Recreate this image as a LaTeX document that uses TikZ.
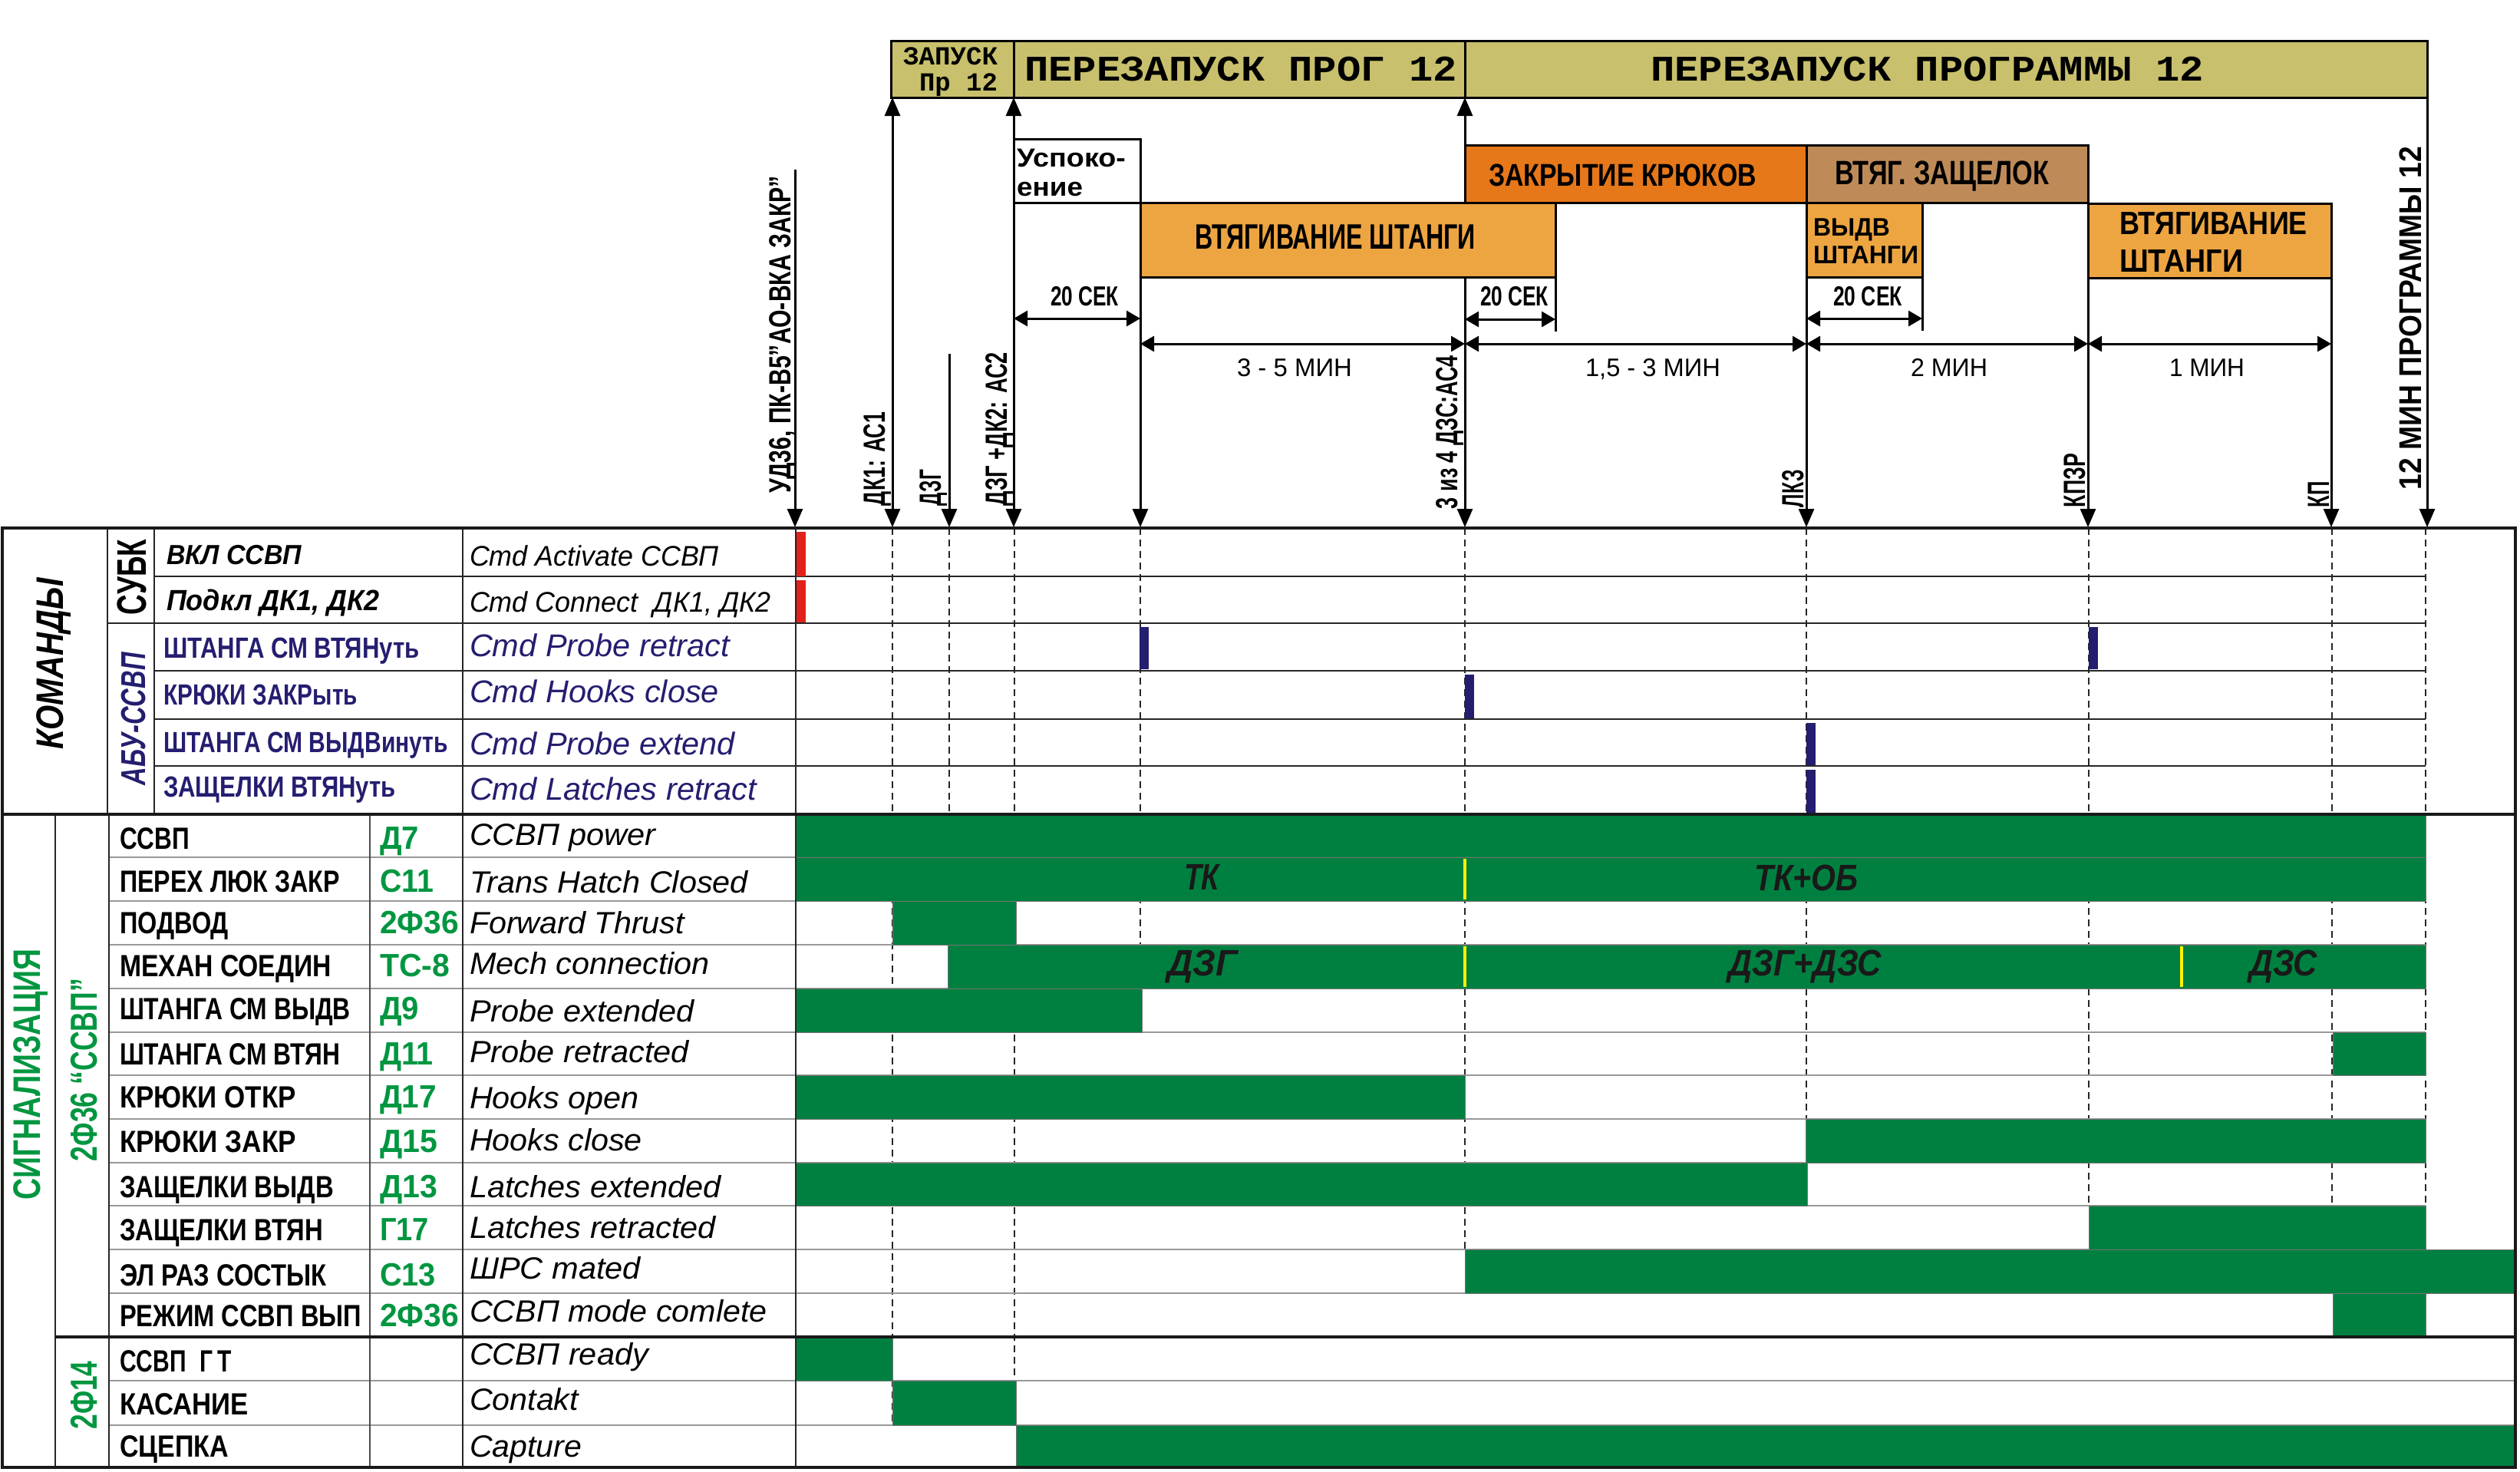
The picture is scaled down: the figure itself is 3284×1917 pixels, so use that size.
\documentclass[tikz,border=0pt]{standalone}
\usepackage{fontspec}
\setmainfont{Liberation Sans}
\newfontfamily\monof{Liberation Mono}
\usetikzlibrary{arrows.meta}
\definecolor{barolive}{RGB}{200,192,108}
\definecolor{orlight}{RGB}{237,165,66}
\definecolor{ordark}{RGB}{230,120,26}
\definecolor{brownbox}{RGB}{190,139,88}
\definecolor{sgreen}{RGB}{0,128,64}
\definecolor{tgreen}{RGB}{0,150,64}
\definecolor{navy}{RGB}{36,30,112}
\definecolor{mred}{RGB}{226,32,28}
\newcommand\fw[2]{\resizebox{#1pt}{\height}{#2}}
\newcommand\fs[1]{\fontsize{#1}{#1}\selectfont}
\newcommand\sigrow[9]{%
  \node[slab] (#9l) at (156,#1) {\fw{#3}{#2}};
  \node[scode] (#9c) at (495,#1) {\fw{#5}{#4}};
  \node[seng] (#9e) at (612,#6) {\fw{#8}{#7}};
}
\begin{document}
\begin{tikzpicture}[x=1pt,y=-1pt,
  tx/.style={inner sep=0pt,outer sep=0pt},
  bw/.style={tx,anchor=base west},
  rot/.style={tx,rotate=90,anchor=base west,font=\fs{40}\bfseries},
  grp/.style={tx,rotate=90,anchor=center},
  dashv/.style={line width=2pt,dash pattern=on 9pt off 6pt,black!85},
  rowk/.style={line width=2.5pt,black!85},
  rows/.style={line width=1.2pt,black!40},
  thickb/.style={line width=4pt,black!90},
  colv/.style={line width=2.5pt,black!85},
  bar/.style={fill=sgreen,draw=black!55,line width=1pt},
  tarr/.style={line width=3pt,-{Triangle[length=24pt,width=20pt]}},
  tdbl/.style={line width=3pt,{Triangle[length=24pt,width=20pt]}-{Triangle[length=24pt,width=20pt]}},
  dimarr/.style={line width=3pt,{Triangle[length=18pt,width=20pt]}-{Triangle[length=18pt,width=20pt]}},
  phasebox/.style={draw=black,line width=3pt},
  slab/.style={bw,font=\fs{40}\bfseries},
  scode/.style={bw,font=\fs{42}\bfseries,text=tgreen},
  seng/.style={bw,font=\fs{40}\itshape},
  bartext/.style={bw,font=\fs{48}\bfseries\itshape,text=black!90},
  ytick/.style={line width=4pt,yellow},
  dimlab/.style={bw,font=\fs{33}},
  seclab/.style={bw,font=\fs{36}\bfseries},
]
\useasboundingbox (0,0) rectangle (3284,1917);
\fill[white] (0,0) rectangle (3284,1917);

% ---------- dashed time lines ----------
\draw[dashv] (1163,688) -- (1163,1857);
\draw[dashv] (1237,688) -- (1237,1061);
\draw[dashv] (1322,688) -- (1322,1799);
\draw[dashv] (1486,688) -- (1486,1231);
\draw[dashv] (1909,688) -- (1909,1628);
\draw[dashv] (2354,688) -- (2354,1571);
\draw[dashv] (2722,688) -- (2722,1571);
\draw[dashv] (3039,688) -- (3039,1685);
\draw[dashv] (3161,688) -- (3161,1742);

% ---------- row lines ----------
\draw[rowk] (201,751) -- (3161,751);
\draw[rowk] (140,812) -- (3161,812);
\foreach \yy in {874,937,998} \draw[rowk] (201,\yy) -- (3161,\yy);
\foreach \yy in {1117,1174,1231,1288,1345,1401,1458,1515,1571,1628,1685} \draw[rows] (142,\yy) -- (3161,\yy);
\foreach \yy in {1799,1857} \draw[rows] (142,\yy) -- (3278,\yy);

% ---------- green signal bars ----------
\draw[bar] (1037,1061) rectangle (3161,1117);
\draw[bar] (1037,1117) rectangle (3161,1174);
\draw[bar] (1163,1174) rectangle (1324,1231);
\draw[bar] (1235,1231) rectangle (3161,1288);
\draw[bar] (1037,1288) rectangle (1488,1345);
\draw[bar] (3040,1345) rectangle (3161,1401);
\draw[bar] (1037,1401) rectangle (1909,1458);
\draw[bar] (2353,1458) rectangle (3161,1515);
\draw[bar] (1037,1515) rectangle (2355,1571);
\draw[bar] (2722,1571) rectangle (3161,1628);
\draw[bar] (1909,1628) rectangle (3278,1685);
\draw[bar] (3040,1685) rectangle (3161,1742);
\draw[bar] (1037,1742) rectangle (1163,1799);
\draw[bar] (1163,1799) rectangle (1324,1857);
\draw[bar] (1324,1857) rectangle (3278,1912);

% yellow ticks
\draw[ytick] (1909,1119) -- (1909,1172);
\draw[ytick] (1909,1233) -- (1909,1286);
\draw[ytick] (2843,1233) -- (2843,1286);

% ---------- command marks ----------
\fill[mred] (1037,693) rectangle (1050,751);
\fill[mred] (1037,756) rectangle (1050,811);
\fill[navy] (1485,817) rectangle (1497,872);
\fill[navy] (2722,817) rectangle (2734,872);
\fill[navy] (1909,879) rectangle (1921,936);
\fill[navy] (2354,942) rectangle (2366,997);
\fill[navy] (2354,1003) rectangle (2366,1060);

% ---------- table frame ----------
\draw[colv] (140,688) -- (140,1061);
\draw[colv] (201,688) -- (201,1061);
\draw[colv] (72,1061) -- (72,1912);
\draw[colv] (142,1061) -- (142,1912);
\draw[line width=1.5pt,black!70] (482,1061) -- (482,1912);
\draw[colv] (603,688) -- (603,1912);
\draw[colv] (1037,688) -- (1037,1912);
\draw[thickb] (3,688) -- (3278,688);
\draw[thickb] (3,1061) -- (3278,1061);
\draw[line width=3.5pt,black!90] (72,1742) -- (3278,1742);
\draw[line width=3.5pt,black!90] (3,688) rectangle (3278,1912);

% ---------- bar texts ----------
\node[bartext] (tk) at (1543,1159) {\fw{46}{ТК}};
\node[bartext] (tkob) at (2286,1160) {\fw{135}{ТК+ОБ}};
\node[bartext] (dzg) at (1521,1271) {\fw{92}{ДЗГ}};
\node[bartext] (dzgdzs) at (2252,1271) {\fw{200}{ДЗГ+ДЗС}};
\node[bartext] (dzs) at (2931,1271) {\fw{89}{ДЗС}};

% ---------- group labels ----------
\node[grp,font=\fs{50}\bfseries\itshape] (kom) at (70,865) {\fw{223}{КОМАНДЫ}};
\node[grp,font=\fs{54}\bfseries] (subk) at (172,752) {\fw{98}{СУБК}};
\node[grp,font=\fs{45}\bfseries\itshape,text=navy] (abu) at (174,937) {\fw{173}{АБУ-ССВП}};
\node[grp,font=\fs{50}\bfseries,text=tgreen] (sig) at (40,1400) {\fw{327}{СИГНАЛИЗАЦИЯ}};
\node[grp,font=\fs{49}\bfseries,text=tgreen] (f36) at (110,1394) {\fw{238}{2Ф36 “ССВП”}};
\node[grp,font=\fs{49}\bfseries,text=tgreen] (f14) at (110,1818) {\fw{89}{2Ф14}};

% ---------- command rows ----------
\node[bw,font=\fs{36}\bfseries\itshape] (c0l) at (217,735) {\fw{176}{ВКЛ ССВП}};
\node[bw,font=\fs{37}\itshape] (c0e) at (612,737) {\fw{325}{Cmd Activate ССВП}};
\node[bw,font=\fs{38}\bfseries\itshape] (c1l) at (217,795) {\fw{278}{Подкл ДК1, ДК2}};
\node[bw,font=\fs{37}\itshape] (c1e) at (612,797) {\fw{393}{Cmd Connect\ \ ДК1, ДК2}};
\node[bw,font=\fs{38}\bfseries,text=navy] (c2l) at (213,857) {\fw{334}{ШТАНГА СМ ВТЯНуть}};
\node[bw,font=\fs{41}\itshape,text=navy] (c2e) at (612,855) {\fw{339}{Cmd Probe retract}};
\node[bw,font=\fs{38}\bfseries,text=navy] (c3l) at (213,918) {\fw{253}{КРЮКИ ЗАКРыть}};
\node[bw,font=\fs{41}\itshape,text=navy] (c3e) at (612,915) {\fw{325}{Cmd Hooks close}};
\node[bw,font=\fs{38}\bfseries,text=navy] (c4l) at (213,980) {\fw{371}{ШТАНГА СМ ВЫДВинуть}};
\node[bw,font=\fs{41}\itshape,text=navy] (c4e) at (612,983) {\fw{346}{Cmd Probe extend}};
\node[bw,font=\fs{38}\bfseries,text=navy] (c5l) at (213,1038) {\fw{303}{ЗАЩЕЛКИ ВТЯНуть}};
\node[bw,font=\fs{41}\itshape,text=navy] (c5e) at (612,1042) {\fw{374}{Cmd Latches retract}};

% ---------- signal rows ----------
\sigrow{1106}{ССВП}{91}{Д7}{51}{1101}{ССВП power}{242}{s0}
\sigrow{1162}{ПЕРЕХ ЛЮК ЗАКР}{287}{С11}{70}{1163}{Trans Hatch Closed}{363}{s1}
\sigrow{1216}{ПОДВОД}{142}{2Ф36}{103}{1216}{Forward Thrust}{280}{s2}
\sigrow{1272}{МЕХАН СОЕДИН}{276}{ТС-8}{91}{1269}{Mech connection}{313}{s3}
\sigrow{1328}{ШТАНГА СМ ВЫДВ}{301}{Д9}{51}{1331}{Probe extended}{293}{s4}
\sigrow{1387}{ШТАНГА СМ ВТЯН}{287}{Д11}{70}{1384}{Probe retracted}{286}{s5}
\sigrow{1443}{КРЮКИ ОТКР}{230}{Д17}{74}{1444}{Hooks open}{221}{s6}
\sigrow{1501}{КРЮКИ ЗАКР}{230}{Д15}{75}{1499}{Hooks close}{225}{s7}
\sigrow{1560}{ЗАЩЕЛКИ ВЫДВ}{279}{Д13}{75}{1560}{Latches extended}{328}{s8}
\sigrow{1616}{ЗАЩЕЛКИ ВТЯН}{265}{Г17}{64}{1613}{Latches retracted}{321}{s9}
\sigrow{1675}{ЭЛ РАЗ СОСТЫК}{270}{С13}{73}{1666}{ШРС mated}{223}{s10}
\sigrow{1728}{РЕЖИМ ССВП ВЫП}{315}{2Ф36}{103}{1722}{ССВП mode comlete}{388}{s11}
\node[slab] (s12l) at (156,1787) {\fw{146}{ССВП\hspace{0.6em}Г\hspace{0.2em}Т}};
\node[seng] (s12e) at (612,1778) {\fw{233}{ССВП ready}};
\node[slab] (s13l) at (156,1843) {\fw{168}{КАСАНИЕ}};
\node[seng] (s13e) at (612,1837) {\fw{142}{Contakt}};
\node[slab] (s14l) at (156,1898) {\fw{142}{СЦЕПКА}};
\node[seng] (s14e) at (612,1898) {\fw{146}{Capture}};

% ---------- time arrows (drawn below the phase boxes) ----------
\coordinate (udT) at (1036,221);  \coordinate (udB) at (1036,687);
\coordinate (dk1T) at (1163,127); \coordinate (dk1B) at (1163,687);
\coordinate (dzgT) at (1237,461); \coordinate (dzgB) at (1237,687);
\coordinate (dk2T) at (1321,127); \coordinate (dk2B) at (1321,687);
\coordinate (vtT) at (1486,361);  \coordinate (vtB) at (1486,687);
\coordinate (c4T) at (1909,127);  \coordinate (c4B) at (1909,687);
\coordinate (lkT) at (2354,361);  \coordinate (lkB) at (2354,687);
\coordinate (kzT) at (2721,264);  \coordinate (kzB) at (2721,687);
\coordinate (kpT) at (3038,362);  \coordinate (kpB) at (3038,687);
\coordinate (p12T) at (3163,127); \coordinate (p12B) at (3163,687);
\coordinate (e1T) at (2027,361);  \coordinate (e1B) at (2027,432);
\coordinate (e2T) at (2505,361);  \coordinate (e2B) at (2505,431);
\draw[tarr] (udT) -- (udB);
\draw[tdbl] (dk1T) -- (dk1B);
\draw[tarr] (dzgT) -- (dzgB);
\draw[tdbl] (dk2T) -- (dk2B);
\draw[tarr] (vtT) -- (vtB);
\draw[tdbl] (c4T) -- (c4B);
\draw[tarr] (lkT) -- (lkB);
\draw[tarr] (kzT) -- (kzB);
\draw[tarr] (kpT) -- (kpB);
\draw[tarr] (p12T) -- (p12B);
\draw[line width=3pt] (e1T) -- (e1B);
\draw[line width=3pt] (e2T) -- (e2B);

% ---------- phase boxes ----------
\draw[phasebox,fill=barolive] (1161,53) rectangle (1321,127);
\draw[phasebox,fill=barolive] (1321,53) rectangle (1909,127);
\draw[phasebox,fill=barolive] (1909,53) rectangle (3163,127);
\draw[phasebox,fill=white] (1321,181) rectangle (1486,264);
\draw[phasebox,fill=orlight] (1486,264) rectangle (2027,361);
\draw[phasebox,fill=ordark] (1909,189) rectangle (2354,264);
\draw[phasebox,fill=brownbox] (2354,189) rectangle (2721,264);
\draw[phasebox,fill=orlight] (2354,264) rectangle (2505,361);
\draw[phasebox,fill=orlight] (2721,265) rectangle (3038,362);

\node[bw,font=\monof\fs{34}\bfseries] (zap1) at (1177,84) {\fw{123}{ЗАПУСК}};
\node[tx,anchor=base east,font=\monof\fs{34}\bfseries] (zap2) at (1300,118) {\fw{102}{Пр 12}};
\node[bw,font=\monof\fs{47}\bfseries] (pp12) at (1335,105) {\fw{564}{ПЕРЕЗАПУСК ПРОГ 12}};
\node[bw,font=\monof\fs{47}\bfseries] (ppr12) at (2151,105) {\fw{721}{ПЕРЕЗАПУСК ПРОГРАММЫ 12}};

\node[bw,font=\fs{34}\bfseries] (usp1) at (1325,217) {\fw{142}{Успоко-}};
\node[bw,font=\fs{34}\bfseries] (usp2) at (1325,255) {\fw{86}{ение}};
\node[bw,font=\fs{46}\bfseries] (vsh1) at (1557,324) {\fw{366}{ВТЯГИВАНИЕ ШТАНГИ}};
\node[bw,font=\fs{41}\bfseries] (zkr) at (1940,242) {\fw{349}{ЗАКРЫТИЕ КРЮКОВ}};
\node[bw,font=\fs{44}\bfseries] (vzsh) at (2391,240) {\fw{279}{ВТЯГ. ЗАЩЕЛОК}};
\node[bw,font=\fs{33}\bfseries] (vyd1) at (2363,307) {\fw{100}{ВЫДВ}};
\node[bw,font=\fs{33}\bfseries] (vyd2) at (2363,343) {\fw{137}{ШТАНГИ}};
\node[bw,font=\fs{42}\bfseries] (vsh2a) at (2762,305) {\fw{245}{ВТЯГИВАНИЕ}};
\node[bw,font=\fs{42}\bfseries] (vsh2b) at (2762,354) {\fw{161}{ШТАНГИ}};

% dimension arrows
\coordinate (d1a) at (1321,415); \coordinate (d1b) at (1486,415);
\coordinate (d2a) at (1909,416); \coordinate (d2b) at (2027,416);
\coordinate (d3a) at (2354,415); \coordinate (d3b) at (2505,415);
\coordinate (m1a) at (1486,448); \coordinate (m1b) at (1909,448);
\coordinate (m2a) at (1909,448); \coordinate (m2b) at (2354,448);
\coordinate (m3a) at (2354,448); \coordinate (m3b) at (2721,448);
\coordinate (m4a) at (2721,448); \coordinate (m4b) at (3038,448);
\draw[dimarr] (d1a) -- (d1b);
\draw[dimarr] (d2a) -- (d2b);
\draw[dimarr] (d3a) -- (d3b);
\draw[dimarr] (m1a) -- (m1b);
\draw[dimarr] (m2a) -- (m2b);
\draw[dimarr] (m3a) -- (m3b);
\draw[dimarr] (m4a) -- (m4b);

\node[seclab] (s20a) at (1369,398) {\fw{89}{20 СЕК}};
\node[seclab] (s20b) at (1929,398) {\fw{89}{20 СЕК}};
\node[seclab] (s20c) at (2389,398) {\fw{90}{20 СЕК}};
\node[dimlab] (t35) at (1612,490) {\fw{150}{3 - 5 МИН}};
\node[dimlab] (t153) at (2066,490) {\fw{176}{1,5 - 3 МИН}};
\node[dimlab] (t2) at (2490,490) {\fw{100}{2 МИН}};
\node[dimlab] (t1) at (2827,490) {\fw{98}{1 МИН}};

% rotated event labels
\node[rot] (lud) at (1030,642) {\fw{413}{УД36, ПК-В5”АО-ВКА ЗАКР”}};
\node[rot] (ldk1) at (1153,659) {\fw{122}{ДК1: АС1}};
\node[rot] (ldzg) at (1226,659) {\fw{47}{ДЗГ}};
\node[rot] (ldk2) at (1312,659) {\fw{200}{ДЗГ +ДК2: АС2}};
\node[rot] (l3iz4) at (1899,663) {\fw{200}{3 из 4 ДЗС:АС4}};
\node[rot] (llkz) at (2350,661) {\fw{49}{ЛКЗ}};
\node[rot] (lkpzr) at (2717,661) {\fw{70}{КПЗР}};
\node[rot] (lkp) at (3035,661) {\fw{34}{КП}};
\node[rot,font=\fs{41}\bfseries] (l12) at (3155,638) {\fw{447}{12 МИН ПРОГРАММЫ 12}};
\end{tikzpicture}
\end{document}
